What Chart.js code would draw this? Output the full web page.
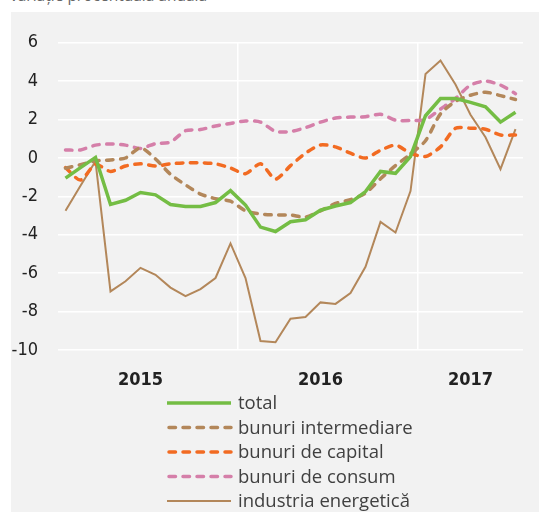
<!DOCTYPE html>
<html>
<head>
<meta charset="utf-8">
<script src="https://cdn.jsdelivr.net/npm/chart.js@4"></script>
<style>
  body { margin: 0; background: #ffffff; width: 539px; height: 512px; overflow: hidden; position: relative; }
  #title { position: absolute; left: 10px; top: -15px; font: 15.5px 'Open Sans', sans-serif; line-height: 20px; color: #666666; white-space: nowrap; }
  #panel { position: absolute; left: 11px; top: 12px; width: 528px; height: 500px; background: #f2f2f2; }
  #chart { display: block; }
</style>
</head>
<body>
<div id="title">variație procentuală anuală</div>
<div id="panel"><canvas id="chart" width="528" height="500"></canvas></div>
<script>
// months Jan 2015 .. Jul 2017
const months = [
  '2015-01','2015-02','2015-03','2015-04','2015-05','2015-06','2015-07','2015-08','2015-09','2015-10','2015-11','2015-12',
  '2016-01','2016-02','2016-03','2016-04','2016-05','2016-06','2016-07','2016-08','2016-09','2016-10','2016-11','2016-12',
  '2017-01','2017-02','2017-03','2017-04','2017-05','2017-06','2017-07'
];
// year labels shown under the axis, keyed by month index
const yearTicks = { 5: '2015', 17: '2016', 27: '2017' };
const yTicks = [6, 4, 2, 0, -2, -4, -6, -8, -10];

const total = [-1.05, -0.5, 0.03, -2.42, -2.2, -1.8, -1.92, -2.42, -2.52, -2.52, -2.32, -1.7,
  -2.45, -3.6, -3.83, -3.32, -3.22, -2.72, -2.5, -2.32, -1.75, -0.7, -0.8, 0.08,
  2.2, 3.1, 3.1, 2.9, 2.67, 1.87, 2.38];
const intermediare = [-0.53, -0.35, -0.15, -0.1, 0.0, 0.53, -0.05, -0.85, -1.4, -1.88, -2.12, -2.25,
  -2.75, -2.92, -2.97, -2.97, -3.08, -2.75, -2.37, -2.17, -1.83, -1.08, -0.4, 0.2,
  0.9, 2.3, 2.95, 3.27, 3.43, 3.25, 3.05];
const capital = [-0.5, -1.15, -0.33, -0.7, -0.42, -0.3, -0.42, -0.3, -0.25, -0.25, -0.3, -0.52,
  -0.82, -0.3, -1.1, -0.4, 0.25, 0.68, 0.58, 0.25, 0.0, 0.4, 0.67, 0.25,
  0.08, 0.58, 1.55, 1.55, 1.5, 1.2, 1.2];
const consum = [0.42, 0.42, 0.67, 0.73, 0.67, 0.5, 0.75, 0.83, 1.42, 1.48, 1.67, 1.8,
  1.93, 1.87, 1.38, 1.38, 1.58, 1.87, 2.08, 2.13, 2.15, 2.28, 1.97, 1.95,
  2.0, 2.55, 3.1, 3.8, 4.0, 3.8, 3.35];
const energetica = [-2.75, -1.45, -0.17, -6.95, -6.42, -5.72, -6.08, -6.75, -7.2, -6.83, -6.25, -4.45,
  -6.25, -9.53, -9.6, -8.37, -8.28, -7.52, -7.6, -7.03, -5.67, -3.33, -3.88, -1.72,
  4.37, 5.08, 3.83, 2.25, 1.08, -0.58, 1.5];

const seriesNames = ['total', 'bunuri intermediare', 'bunuri de capital', 'bunuri de consum', 'industria energetică'];

const GREEN = '#74bd44';
const BROWN = '#b3875a';
const ORANGE = '#f26b22';
const PINK = '#d57fa9';

const dash = [6.5, 7.5];

// vertical legend drawn under the x axis
const legendPlugin = {
  id: 'stackedLegend',
  afterDraw(chart) {
    const ctx = chart.ctx;
    const x0 = 156, x1 = 220, tx = 227;
    let y = 391;
    ctx.save();
    chart.data.datasets.forEach(ds => {
      ctx.beginPath();
      ctx.strokeStyle = ds.borderColor;
      ctx.lineWidth = ds.borderWidth;
      ctx.lineCap = ds.borderCapStyle || 'butt';
      ctx.setLineDash(ds.borderDash || []);
      ctx.moveTo(x0 + (ds.borderDash ? 2 : 0), y);
      ctx.lineTo(x1, y);
      ctx.stroke();
      ctx.setLineDash([]);
      ctx.fillStyle = '#404040';
      ctx.font = '18.5px "Open Sans", sans-serif';
      ctx.textBaseline = 'middle';
      ctx.textAlign = 'left';
      ctx.fillText(ds.label, tx, y + 1);
      y += 24.5;
    });
    ctx.restore();
  }
};

new Chart(document.getElementById('chart'), {
  type: 'line',
  data: {
    labels: months,
    datasets: [
      { label: seriesNames[0], data: total, borderColor: GREEN, borderWidth: 3.5, tension: 0, pointRadius: 0 },
      { label: seriesNames[1], data: intermediare, borderColor: BROWN, borderWidth: 3.5, borderDash: dash, borderCapStyle: 'round', tension: 0.25, pointRadius: 0 },
      { label: seriesNames[2], data: capital, borderColor: ORANGE, borderWidth: 3.5, borderDash: dash, borderCapStyle: 'round', tension: 0.25, pointRadius: 0 },
      { label: seriesNames[3], data: consum, borderColor: PINK, borderWidth: 3.5, borderDash: dash, borderCapStyle: 'round', tension: 0.25, pointRadius: 0 },
      { label: seriesNames[4], data: energetica, borderColor: BROWN, borderWidth: 2, tension: 0, pointRadius: 0 }
    ]
  },
  options: {
    responsive: false,
    animation: false,
    devicePixelRatio: 1,
    layout: { padding: { left: 0, right: 16, top: 18, bottom: 125 } },
    plugins: {
      legend: { display: false },
      tooltip: { enabled: false }
    },
    scales: {
      x: {
        type: 'category',
        offset: true,
        afterFit: s => { s.height = 37; },
        border: { display: false },
        grid: {
          offset: true,
          drawTicks: false,
          lineWidth: 1.5,
          color: c => (c.index === 12 || c.index === 24) ? '#ffffff' : 'rgba(0,0,0,0)'
        },
        ticks: {
          autoSkip: false,
          maxRotation: 0,
          padding: 20,
          color: '#222222',
          font: { family: "'Liberation Sans Narrow', 'DejaVu Sans Condensed', sans-serif", size: 18, weight: 'bold' },
          callback: (v, i) => yearTicks[i] || ''
        }
      },
      y: {
        min: -10,
        max: 6,
        afterFit: s => { s.width = 47; },
        afterBuildTicks: s => { s.ticks = yTicks.map(v => ({ value: v })); },
        border: { display: false },
        grid: { color: '#ffffff', lineWidth: 1.5, drawTicks: false },
        ticks: {
          padding: 20,
          color: '#222222',
          font: { family: "'Liberation Sans Narrow', 'DejaVu Sans Condensed', sans-serif", size: 18 }
        }
      }
    }
  },
  plugins: [legendPlugin]
});
</script>
</body>
</html>
